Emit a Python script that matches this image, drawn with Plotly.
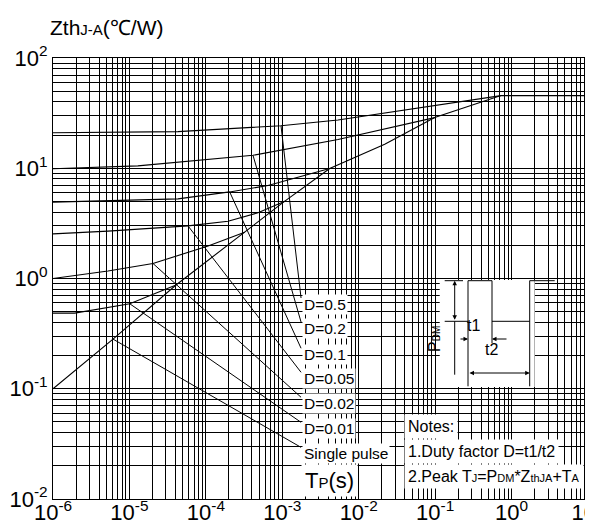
import plotly.graph_objects as go
import math

# ---------------- data (pulse width in s, Zth in C/W) ----------------
single_t = [1e-6, 6.1e-6, 4.07e-5, 1.17e-4, 3.22e-4, 1.08e-3, 4.17e-3, 2.19e-2, 9.87e-2, 0.727, 10]
single_z = [0.1, 0.282, 0.873, 1.54, 2.63, 5.03, 9.96, 16.5, 28.8, 45.6, 45.6]

d001_t = [1e-6, 1.92e-6, 1.01e-5, 4.07e-5]
d001_z = [0.485, 0.485, 0.59, 0.873]

d002_t = [1e-6, 5.24e-6, 2.03e-5, 1.07e-4, 3.22e-4]
d002_z = [1.0, 1.17, 1.37, 1.97, 2.63]

d005_t = [1e-6, 5.24e-6, 5.84e-5, 1.95e-4, 4.81e-4, 1.08e-3]
d005_z = [2.54, 2.69, 3.0, 3.31, 3.94, 5.03]

d01_t = [1e-6, 5.24e-6, 4.32e-5, 2.05e-4, 6.5e-4, 4.17e-3]
d01_z = [4.93, 5.1, 5.28, 6.1, 6.98, 9.96]

d02_t = [1e-6, 1.29e-5, 4.14e-4, 5.36e-3, 9.87e-2]
d02_z = [9.9, 10.5, 13.1, 18.2, 28.8]

d05_t = [1e-6, 4.32e-5, 9.62e-4, 5.36e-3, 0.727]
d05_z = [21.0, 21.5, 24.3, 27.4, 45.6]

labels = ["D=0.5", "D=0.2", "D=0.1", "D=0.05", "D=0.02", "D=0.01", "Single pulse"]
# leader lines: from a point on each curve to its label
leader_start_t = [9.62e-4, 4.14e-4, 2.05e-4, 5.84e-5, 2.03e-5, 1.01e-5, 6.1e-6]
leader_start_z = [24.3, 13.1, 6.1, 3.0, 1.37, 0.59, 0.282]
leader_end_t = 1.76e-3
leader_end_z = [0.665, 0.403, 0.233, 0.141, 0.0837, 0.0496, 0.0294]

x_decades = (-6, 1)
y_decades = (-2, 2)

FONT = "Liberation Sans, Arial, Helvetica, sans-serif"


def log_ticks(lo, hi):
    vals, text = [], []
    for e in range(lo, hi + 1):
        for m in range(1, 10):
            if e == hi and m > 1:
                break
            vals.append(m * 10.0 ** e)
            text.append(f"10<sup>{e}</sup>" if m == 1 else "")
    return vals, text


fig = go.Figure()

curves = [
    (single_t, single_z), (d001_t, d001_z), (d002_t, d002_z), (d005_t, d005_z),
    (d01_t, d01_z), (d02_t, d02_z), (d05_t, d05_z),
]
for t, z in curves:
    fig.add_trace(go.Scatter(x=t, y=z, mode="lines",
                             line=dict(color="black", width=1.1),
                             hoverinfo="skip", showlegend=False))

for i in range(len(labels)):
    fig.add_trace(go.Scatter(x=[leader_start_t[i], leader_end_t],
                             y=[leader_start_z[i], leader_end_z[i]],
                             mode="lines", line=dict(color="black", width=1),
                             hoverinfo="skip", showlegend=False))

xv, xt = log_ticks(*x_decades)
yv, yt = log_ticks(*y_decades)

axis_common = dict(type="log", showgrid=True, gridcolor="black", gridwidth=1,
                   showline=True, linecolor="black", linewidth=1, mirror=True,
                   ticks="", zeroline=False, automargin=False,
                   ticklabeloverflow="allow",
                   tickfont=dict(family=FONT, size=22, color="black"))
fig.update_xaxes(range=list(x_decades), tickvals=xv, ticktext=xt,
                 ticklabelstandoff=-6, **axis_common)
fig.update_yaxes(range=list(y_decades), tickvals=yv, ticktext=yt, **axis_common)

# plot-area pixel -> paper helpers (plot area: x 45..580, y 50..491)
L, R, T, B = 45, 580, 50, 491


def fx(p):
    return (p - L) / (R - L)


def fy(p):
    return (B - p) / (B - T)


ann = []
# curve labels
for i, lab in enumerate(labels):
    ann.append(dict(x=math.log10(leader_end_t), y=math.log10(leader_end_z[i]),
                    xref="x", yref="y", text=lab, showarrow=False,
                    xanchor="left", yanchor="middle", yshift=-6, xshift=1,
                    bgcolor="white", borderpad=1,
                    font=dict(family=FONT, size=15.5, color="black")))

# title and axis name
ann.append(dict(x=fx(40), y=fy(19), xref="paper", yref="paper", xanchor="left", yanchor="middle",
                text="Zth<span style='font-size:15px'>J-A</span>(℃/W)", showarrow=False,
                font=dict(family=FONT, size=21, color="black")))
ann.append(dict(x=fx(293), y=fy(472), xref="paper", yref="paper", xanchor="left", yanchor="middle",
                text="T<span style='font-size:15px'>P</span>(s)", showarrow=False,
                bgcolor="white", borderpad=3,
                font=dict(family=FONT, size=22, color="black")))

# notes
notes = ["Notes:", "1.Duty factor D=t1/t2",
         "2.Peak T<span style='font-size:11px'>J</span>=P<span style='font-size:11px'>DM</span>*Z<span style='font-size:11px'>thJA</span>+T<span style='font-size:11px'>A</span>"]
for k, txt in enumerate(notes):
    ann.append(dict(x=fx(396), y=fy(418 + 25 * k), xref="paper", yref="paper",
                    xanchor="left", yanchor="middle", text=txt, showarrow=False,
                    bgcolor="white", borderpad=3,
                    font=dict(family=FONT, size=16, color="black")))

# pulse diagram texts
ann.append(dict(x=fx(437), y=fy(346.5), xref="paper", yref="paper", textangle=-90,
                text="P<span style='font-size:10px'>DM</span>", showarrow=False,
                font=dict(family=FONT, size=16, color="black")))
ann.append(dict(x=fx(474), y=fy(318), xref="paper", yref="paper",
                text="t1", showarrow=False, font=dict(family=FONT, size=16, color="black")))
ann.append(dict(x=fx(491.5), y=fy(352), xref="paper", yref="paper",
                text="t2", showarrow=False, font=dict(family=FONT, size=16, color="black")))

# arrows
arrow_common = dict(xref="paper", yref="paper", text="", showarrow=True,
                    arrowhead=2, arrowsize=0.9, arrowwidth=1, arrowcolor="black",
                    standoff=0, startstandoff=0)
ann.append(dict(x=fx(446.7), y=fy(272.7), ax=0, ay=40.6, arrowside="end+start", **arrow_common))
ann.append(dict(x=fx(460), y=fy(331), ax=-9, ay=0, **arrow_common))
ann.append(dict(x=fx(484), y=fy(331), ax=16, ay=0, **arrow_common))
ann.append(dict(x=fx(521.7), y=fy(365), ax=-61.7, ay=0, arrowside="end+start", **arrow_common))

shapes = []
shapes.append(dict(type="rect", xref="paper", yref="paper", x0=fx(431.7), x1=fx(526.7),
                   y0=fy(379), y1=fy(272), fillcolor="white", line=dict(width=0), layer="above"))


def seg(x0, y0, x1, y1):
    shapes.append(dict(type="line", xref="paper", yref="paper", x0=fx(x0), y0=fy(y0),
                       x1=fx(x1), y1=fy(y1), line=dict(color="black", width=1), layer="above"))


# waveform
seg(436.7, 313.3, 460, 313.3)
seg(460, 272.7, 460, 378.3)
seg(460, 272.7, 484, 272.7)
seg(484, 272.7, 484, 335)
seg(484, 313.3, 521.7, 313.3)
seg(521.7, 272.7, 521.7, 378.3)
seg(521.7, 272.7, 546.7, 272.7)
seg(436.7, 272.7, 455, 272.7)
seg(446.7, 313.3, 446.7, 366.7)

fig.update_layout(width=593, height=526, margin=dict(l=L, r=593 - R, t=T, b=526 - B),
                  plot_bgcolor="white", paper_bgcolor="white",
                  font=dict(family=FONT, color="black"),
                  annotations=ann, shapes=shapes, showlegend=False)

fig.write_html("out.html")
